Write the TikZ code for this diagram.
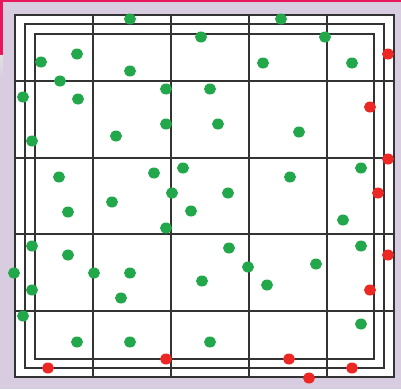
\documentclass[tikz,border=0pt]{standalone}
\begin{document}
\begin{tikzpicture}[x=1pt,y=-1pt,
  gridline/.style={draw=black!80,line width=1.1pt},
  gdot/.style={ellipse,fill=dotgreen,inner sep=0pt,minimum width=12pt,minimum height=11pt},
  rdot/.style={ellipse,fill=dotred,inner sep=0pt,minimum width=12pt,minimum height=11pt}]
\usetikzlibrary{shapes.geometric}
\definecolor{bg}{RGB}{216,205,224}
\definecolor{pinkbar}{RGB}{232,22,90}
\definecolor{dotgreen}{RGB}{34,168,75}
\definecolor{dotred}{RGB}{236,40,36}
\useasboundingbox (0,0) rectangle (401,389);
\fill[bg] (0,0) rectangle (401,389);
\fill[pinkbar] (0,0) rectangle (401,2);
\fill[pinkbar] (0,0) rectangle (3,55);
\shade[top color=black!12,bottom color=bg] (0,55) rectangle (3,78);
\fill[white] (15,15) rectangle (394,377);
% nested border rectangles
\draw[gridline] (15,15) rectangle (394,377);
\draw[gridline] (25,24) rectangle (384,368);
\draw[gridline] (35,34) rectangle (374,359);
% grid
\foreach \x in {93,171,249,327} \draw[gridline] (\x,15) -- (\x,377);
\foreach \y in {81,158,234,311} \draw[gridline] (15,\y) -- (394,\y);
% green dots
\foreach \p [count=\i] in {
 (130,19),(281,19),(201,37),(325,37),
 (77,54),(41,62),(130,71),(263,63),(352,63),
 (60,81),(23,97),(78,99),(166,89),(210,89),
 (166,124),(218,124),(116,136),(299,132),(32,141),
 (59,177),(154,173),(183,168),(290,177),(361,168),
 (172,193),(228,193),(112,202),(68,212),(191,211),(343,220),(166,228),
 (32,246),(68,255),(229,248),(361,246),(248,267),(316,264),
 (14,273),(94,273),(130,273),(202,281),(267,285),
 (32,290),(121,298),(23,316),(361,324),
 (77,342),(130,342),(210,342)}
 \node[gdot] (g\i) at \p {};
% red dots
\foreach \p [count=\i] in {
 (388,54),(370,107),(388,159),(378,193),(388,255),(370,290),
 (48,368),(166,359),(289,359),(352,368),(309,378)}
 \node[rdot] (r\i) at \p {};
\end{tikzpicture}
\end{document}
